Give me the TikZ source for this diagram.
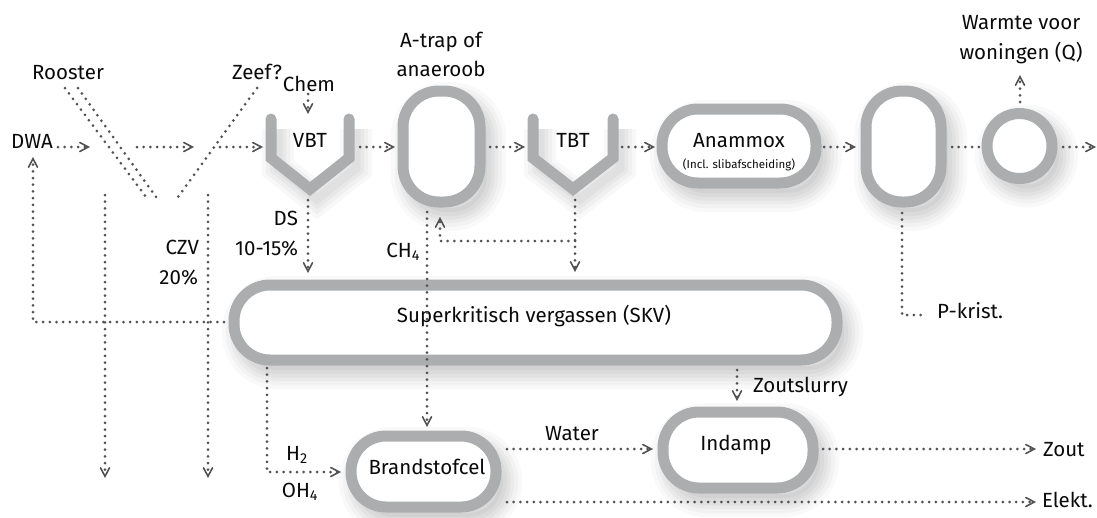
\documentclass[tikz,border=0pt]{standalone}
\usepackage{fontspec}
\setmainfont{Fira Sans}
\usetikzlibrary{arrows.meta}

\definecolor{tankgray}{RGB}{172,173,175}
\definecolor{flowgray}{RGB}{82,82,85}
\definecolor{ink}{RGB}{10,10,10}

\begin{document}
\begin{tikzpicture}[x=1pt,y=-1pt,
  font=\fontsize{20.5}{22}\selectfont, text=ink,
  every node/.style={inner sep=0pt, outer sep=0pt},
  lbl/.style={text height=14pt, text depth=0pt, align=center},
  % soft drop shadow for filled vessels
  softshadow/.style={
    preaction={draw=black, fill=black, draw opacity=0.025, fill opacity=0.035, line width=38pt, transform canvas={xshift=7pt,yshift=-10pt}},
    preaction={draw=black, draw opacity=0.028, line width=30pt, transform canvas={xshift=7pt,yshift=-10pt}},
    preaction={draw=black, draw opacity=0.032, line width=22pt, transform canvas={xshift=7pt,yshift=-10pt}},
    preaction={draw=black, draw opacity=0.035, line width=15pt, transform canvas={xshift=7pt,yshift=-10pt}},
    preaction={draw=black, draw opacity=0.035, line width=8pt, transform canvas={xshift=7pt,yshift=-10pt}}},
  % soft drop shadow for the open funnels
  lineshadow/.style={
    preaction={draw=black, draw opacity=0.028, line width=32pt, transform canvas={xshift=7pt,yshift=-10pt}},
    preaction={draw=black, draw opacity=0.032, line width=24pt, transform canvas={xshift=7pt,yshift=-10pt}},
    preaction={draw=black, draw opacity=0.035, line width=16pt, transform canvas={xshift=7pt,yshift=-10pt}},
    preaction={draw=black, draw opacity=0.035, line width=9pt, transform canvas={xshift=7pt,yshift=-10pt}}},
  vessel/.style={draw=tankgray, fill=white, line width=11pt, rounded corners=36pt, softshadow},
  funnel/.style={draw=tankgray, line width=11pt, line cap=round, line join=miter, lineshadow},
  flow/.style={draw=flowgray, line width=3pt, line cap=round, dash pattern=on 0pt off 6.7pt},
  tip/.style={-{Straight Barb[length=8.5pt,width=9pt,line width=1.6pt,line cap=round]}},
]
\useasboundingbox (0,0) rectangle (1097,517);

% ---- vessels ----
\draw[funnel] (271,119) -- (271,158) -- (310,189) -- (349,158) -- (349,119);
\draw[funnel] (533,119) -- (533,158) -- (573,189) -- (613,158) -- (613,119);
\node[vessel, minimum width=77pt, minimum height=111pt] (atrap) at (441.5,146.5) {};
\node[vessel, minimum width=154pt, minimum height=74pt] (anammox) at (739,146) {};
\node[vessel, minimum width=75pt, minimum height=111pt] (post) at (903.5,146.5) {};
\node[vessel, circle, minimum size=65pt] (heat) at (1019.5,146) {};
\node[vessel, minimum width=603pt, minimum height=75pt] (skv) at (535.5,322.5) {};
\node[vessel, minimum width=145pt, minimum height=71pt, rounded corners=35pt] (fc) at (423.5,471.5) {};
\node[vessel, minimum width=150pt, minimum height=76pt] (indamp) at (738,450) {};

% ---- labels ----
\node[lbl] (rooster) at (68,72) {Rooster};
\node[lbl] (zeef) at (257,72) {Zeef?};
\node[lbl] (chem) at (309,84) {Chem};
\node[lbl] (dwa) at (32,141) {DWA};
\node[lbl] (atraplbl) at (441,40) {A-trap of};
\node[lbl] (anaeroob) at (441,69) {anaeroob};
\node[lbl] (vbt) at (310,140) {VBT};
\node[lbl] (tbt) at (573,140) {TBT};
\node[lbl] (anammoxlbl) at (739,140) {Anammox};
\node (anammoxsub) at (739,165) {\fontsize{11.5}{12}\selectfont(Incl. slibafscheiding)};
\node[lbl] (warmte) at (1021,22) {Warmte voor};
\node[lbl] (woningen) at (1021,52) {woningen (Q)};
\node[lbl, anchor=east] (ds) at (298,218) {DS};
\node[lbl, anchor=east] (dspct) at (298,248) {10-15\%};
\node[lbl, anchor=east] (czv) at (199,247) {CZV};
\node[lbl, anchor=east] (czvpct) at (198,277) {20\%};
\node[lbl, anchor=east] (ch4) at (420,250) {CH\textsubscript{4}};
\node[lbl] (skvlbl) at (534,315) {Superkritisch vergassen (SKV)};
\node[lbl, anchor=west] (pkrist) at (937,311) {P-krist.};
\node[lbl, anchor=west] (zoutslurry) at (753,385) {Zoutslurry};
\node[lbl] (h2) at (297,453) {H\textsubscript{2}};
\node[lbl] (oh4) at (300,490) {OH\textsubscript{4}};
\node[lbl] (water) at (572,433) {Water};
\node[lbl] (fclbl) at (427,467) {Brandstofcel};
\node[lbl] (indamplbl) at (736,443) {Indamp};
\node[lbl, anchor=west] (zout) at (1043,449) {Zout};
\node[lbl, anchor=west] (elekt) at (1042,500) {Elekt.};

% ---- connector end points ----
\coordinate (in1a) at (58,147);   \coordinate (in1b) at (90,147);
\coordinate (in2a) at (137,147);  \coordinate (in2b) at (194,147);
\coordinate (in3a) at (220,147);  \coordinate (in3b) at (263,147);
\coordinate (vbtR) at (360,147);  \coordinate (atrapL) at (395,147);
\coordinate (atrapR) at (490,147);\coordinate (tbtL) at (525,147);
\coordinate (tbtR) at (622,147);  \coordinate (anaL) at (655,147);
\coordinate (anaR) at (824,147);  \coordinate (postL) at (856,147);
\coordinate (postR) at (952,147); \coordinate (heatL) at (979,147);
\coordinate (heatR) at (1063,147);\coordinate (effluent) at (1096,147);
\coordinate (heatT) at (1020,102);\coordinate (heatQ) at (1020,75);
\coordinate (chemB) at (308,94);  \coordinate (vbtT) at (308,114);
\coordinate (vbtB) at (308,200);  \coordinate (skvDS) at (308,273);
\coordinate (atrapB) at (427,212);\coordinate (fcT) at (427,427);
\coordinate (tbtB) at (575,200);  \coordinate (skvT) at (575,272);
\coordinate (gasJ) at (575,241);  \coordinate (atrapRet) at (440,217);
\coordinate (skvW) at (224,322);  \coordinate (dwaRet) at (33,157);
\coordinate (outAa) at (105,195); \coordinate (outAb) at (105,478);
\coordinate (outBa) at (208,195); \coordinate (outBb) at (208,478);
\coordinate (skvB) at (267,368);  \coordinate (fcL) at (341,472);
\coordinate (skvS) at (737,370);  \coordinate (indT) at (737,401);
\coordinate (fcR1) at (507,449);  \coordinate (indL) at (653,449);
\coordinate (indR) at (823,449);  \coordinate (zoutE) at (1036,449);
\coordinate (fcR2) at (507,502);  \coordinate (elektE) at (1036,502);
\coordinate (postB) at (902,213); \coordinate (pkE) at (927,315);
\coordinate (r1a) at (65,88);     \coordinate (r1b) at (146,197);
\coordinate (r2a) at (78,88);     \coordinate (r2b) at (156,197);
\coordinate (za) at (257,88);     \coordinate (zb) at (178,197);

% ---- flows ----
\draw[flow, tip] (in1a) -- (in1b);
\draw[flow, tip] (in2a) -- (in2b);
\draw[flow, tip] (in3a) -- (in3b);
\draw[flow, tip] (vbtR) -- (atrapL);
\draw[flow, tip] (atrapR) -- (tbtL);
\draw[flow, tip] (tbtR) -- (anaL);
\draw[flow, tip] (anaR) -- (postL);
\draw[flow] (postR) -- (heatL);
\draw[flow, tip] (heatR) -- (effluent);
\draw[flow, tip] (heatT) -- (heatQ);
\draw[flow, tip] (chemB) -- (vbtT);
\draw[flow, tip] (vbtB) -- (skvDS);
\draw[flow, tip] (atrapB) -- (fcT);
\draw[flow, tip] (tbtB) -- (skvT);
\draw[flow, tip] (gasJ) -| (atrapRet);
\draw[flow, tip] (skvW) -| (dwaRet);
\draw[flow, tip] (outAa) -- (outAb);
\draw[flow, tip] (outBa) -- (outBb);
\draw[flow, tip] (skvB) |- (fcL);
\draw[flow, tip] (skvS) -- (indT);
\draw[flow, tip] (fcR1) -- (indL);
\draw[flow, tip] (indR) -- (zoutE);
\draw[flow, tip] (fcR2) -- (elektE);
\draw[flow] (postB) |- (pkE);
\draw[flow] (r1a) -- (r1b);
\draw[flow] (r2a) -- (r2b);
\draw[flow] (za) -- (zb);
\end{tikzpicture}
\end{document}
